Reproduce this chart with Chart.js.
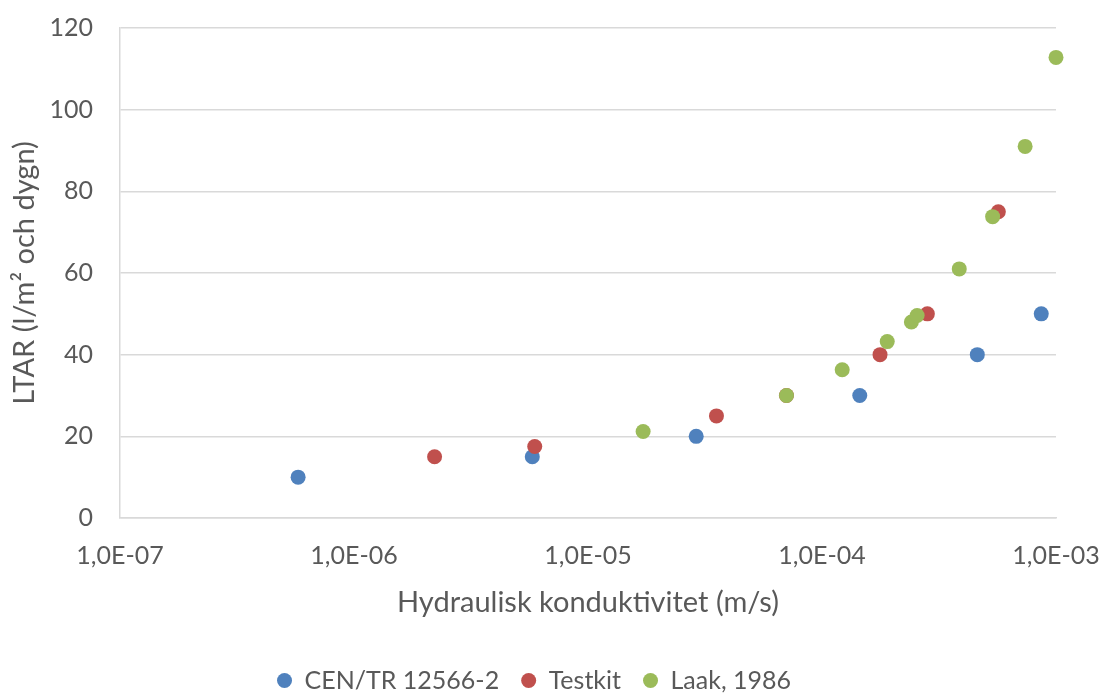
<!DOCTYPE html>
<html>
<head>
<meta charset="utf-8">
<script src="https://cdn.jsdelivr.net/npm/chart.js@4/dist/chart.umd.min.js"></script>
<style>
  html, body { margin: 0; padding: 0; background: #ffffff; }
  #wrap { width: 1104px; height: 693px; }
</style>
</head>
<body>
<div id="wrap"><canvas id="c" width="1104" height="693"></canvas></div>
<script>
// Hydraulic conductivity (m/s) vs. long-term acceptance rate LTAR (l/m² och dygn)
const seriesNames = ['CEN/TR 12566-2', 'Testkit', 'Laak, 1986'];

const cenK    = [5.77e-7, 5.78e-6, 2.90e-5, 1.45e-4, 4.61e-4, 8.65e-4];
const cenLTAR = [10, 15, 20, 30, 40, 50];

const testK    = [2.21e-6, 5.92e-6, 3.54e-5, 7.05e-5, 1.77e-4, 2.82e-4, 5.67e-4];
const testLTAR = [15, 17.5, 25, 30, 40, 50, 75];

const laakK    = [1.72e-5, 7.05e-5, 1.22e-4, 1.90e-4, 2.41e-4, 2.55e-4, 3.86e-4, 5.36e-4, 7.38e-4, 1.0e-3];
const laakLTAR = [21.2, 30, 36.3, 43.2, 48.0, 49.6, 61.0, 73.8, 91.0, 112.8];

const xTickValues = [1e-7, 1e-6, 1e-5, 1e-4, 1e-3];
const xTickLabels = ['1,0E-07', '1,0E-06', '1,0E-05', '1,0E-04', '1,0E-03'];
const yTickValues = [0, 20, 40, 60, 80, 100, 120];

const colors = ['#4F81BD', '#C0504D', '#9BBB59'];
const textColor = '#595959';
const gridColor = '#D9D9D9';
const fontFamily = 'Lato, "Open Sans", sans-serif';

function toPoints(xs, ys) {
  return xs.map((x, i) => ({ x: x, y: ys[i] }));
}

function series(name, xs, ys, color, order) {
  return {
    label: name,
    data: toPoints(xs, ys),
    backgroundColor: color,
    borderColor: color,
    pointBackgroundColor: color,
    pointBorderColor: color,
    pointRadius: 7.5,
    pointHoverRadius: 7.5,
    pointBorderWidth: 0,
    borderWidth: 0,
    clip: false,
    order: order
  };
}

// nudge the centred legend row slightly to the right
const legendNudge = {
  id: 'legendNudge',
  afterLayout(chart) {
    if (chart.legend) {
      chart.legend.left += 6;
      chart.legend.right += 6;
    }
  }
};

new Chart(document.getElementById('c'), {
  type: 'scatter',
  data: {
    datasets: [
      series(seriesNames[0], cenK, cenLTAR, colors[0], 3),
      series(seriesNames[1], testK, testLTAR, colors[1], 2),
      series(seriesNames[2], laakK, laakLTAR, colors[2], 1)
    ]
  },
  plugins: [legendNudge],
  options: {
    responsive: false,
    animation: false,
    events: [],
    layout: { padding: { top: 28, right: 48, bottom: -10, left: 0 } },
    plugins: {
      tooltip: { enabled: false },
      legend: {
        position: 'bottom',
        labels: {
          usePointStyle: true,
          pointStyle: 'circle',
          boxHeight: 10.6,
          pointStyleWidth: 15,
          padding: 22,
          color: textColor,
          font: { family: fontFamily, size: 25 },
          sort: (a, b) => a.datasetIndex - b.datasetIndex
        }
      }
    },
    scales: {
      x: {
        type: 'logarithmic',
        min: 1e-7,
        max: 1e-3,
        afterBuildTicks: (scale) => {
          scale.ticks = xTickValues.map(v => ({ value: v }));
        },
        afterFit: (scale) => {
          // fixed axis band; end labels may overhang into the outer padding
          scale.height = 128;
          scale.paddingLeft = 0;
          scale.paddingRight = 0;
        },
        grid: { display: false, drawTicks: false },
        border: { display: true, color: gridColor, width: 1.5 },
        ticks: {
          padding: 23,
          color: textColor,
          font: { family: fontFamily, size: 25 },
          maxRotation: 0,
          autoSkip: false,
          callback: (v) => {
            const i = xTickValues.findIndex(t => Math.abs(Math.log10(t) - Math.log10(v)) < 1e-6);
            return i >= 0 ? xTickLabels[i] : '';
          }
        },
        title: {
          display: true,
          text: 'Hydraulisk konduktivitet (m/s)',
          color: textColor,
          font: { family: fontFamily, size: 29 },
          padding: { top: 0, bottom: 26 }
        }
      },
      y: {
        type: 'linear',
        min: 0,
        max: 120,
        afterBuildTicks: (scale) => {
          scale.ticks = yTickValues.map(v => ({ value: v }));
        },
        afterFit: (scale) => {
          scale.width = 120;
          scale.paddingTop = 0;
          scale.paddingBottom = 0;
        },
        grid: { display: true, drawTicks: false, color: gridColor, lineWidth: 1.5 },
        border: { display: true, color: gridColor, width: 1.5 },
        ticks: {
          padding: 27,
          color: textColor,
          font: { family: fontFamily, size: 25 }
        },
        title: {
          display: true,
          text: 'LTAR (l/m² och dygn)',
          color: textColor,
          font: { family: fontFamily, size: 29 },
          padding: { top: 7, bottom: 0 }
        }
      }
    }
  }
});
</script>
</body>
</html>
